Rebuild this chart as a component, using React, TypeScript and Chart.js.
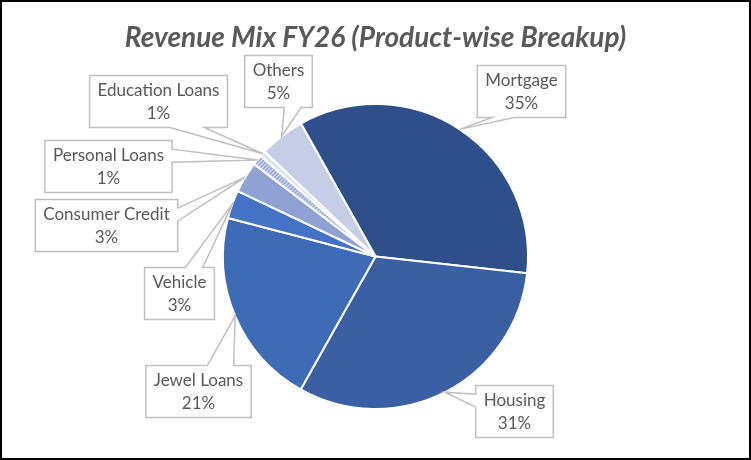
import React, { useEffect, useRef } from 'react';
import { Chart, registerables } from 'chart.js';

Chart.register(...registerables);

const chartTitle = 'Revenue Mix FY26 (Product-wise Breakup)';
const categories = ['Mortgage', 'Housing', 'Jewel Loans', 'Vehicle', 'Consumer Credit', 'Personal Loans', 'Education Loans', 'Others'];
const shares = [34.9, 31.4, 20.9, 3.0, 3.3, 1.1, 0.6, 4.8];
const percentLabels = ['35%', '31%', '21%', '3%', '3%', '1%', '1%', '5%'];
const sliceColors = ['#2F4F8B', '#3A5FA3', '#3E6BB6', '#4472C4', '#8EA3D4', 'hatch', '#DCE2F2', '#C5CDE7'];
// callout box centres, offset from the pie centre (px)
const calloutOffsets = [
    [146, -165], [139, 155], [-177, 135], [-196, 37],
    [-269, -31], [-267, -90], [-217, -155], [-97, -175],
];

const LABEL_FONT = '17px Lato';
const TEXT_COLOR = '#595959';

const calloutPlugin = {
    id: 'callouts',
    afterDatasetsDraw(chart: any) {
        const ctx = chart.ctx as CanvasRenderingContext2D;
        const meta = chart.getDatasetMeta(0);
        ctx.save();
        ctx.font = LABEL_FONT;
        meta.data.forEach((arc: any, i: number) => {
            const { x, y, startAngle, endAngle, outerRadius } = arc.getProps(['x', 'y', 'startAngle', 'endAngle', 'outerRadius'], true);
            const mid = (startAngle + endAngle) / 2;
            const tipX = x + Math.cos(mid) * outerRadius;
            const tipY = y + Math.sin(mid) * outerRadius;
            const lines = [categories[i], percentLabels[i]];
            const w = Math.max(...lines.map((l) => ctx.measureText(l).width)) + 16;
            const h = 52;
            const cx = x + calloutOffsets[i][0];
            const cy = y + calloutOffsets[i][1];
            const left = cx - w / 2, top = cy - h / 2, right = cx + w / 2, bottom = cy + h / 2;
            const dx = tipX - cx, dy = tipY - cy;
            const vertical = Math.abs(dy) * w > Math.abs(dx) * h;

            ctx.beginPath();
            ctx.moveTo(left, top);
            // top edge
            if (vertical && dy < 0) {
                const f = dx < 0 ? [2, 5] : [7, 10];
                ctx.lineTo(left + (w * f[0]) / 12, top);
                ctx.lineTo(tipX, tipY);
                ctx.lineTo(left + (w * f[1]) / 12, top);
            }
            ctx.lineTo(right, top);
            // right edge
            if (!vertical && dx > 0) {
                const f = dy < 0 ? [2, 5] : [7, 10];
                ctx.lineTo(right, top + (h * f[0]) / 12);
                ctx.lineTo(tipX, tipY);
                ctx.lineTo(right, top + (h * f[1]) / 12);
            }
            ctx.lineTo(right, bottom);
            // bottom edge
            if (vertical && dy >= 0) {
                const f = dx < 0 ? [5, 2] : [10, 7];
                ctx.lineTo(left + (w * f[0]) / 12, bottom);
                ctx.lineTo(tipX, tipY);
                ctx.lineTo(left + (w * f[1]) / 12, bottom);
            }
            ctx.lineTo(left, bottom);
            // left edge
            if (!vertical && dx <= 0) {
                const f = dy < 0 ? [5, 2] : [10, 7];
                ctx.lineTo(left, top + (h * f[0]) / 12);
                ctx.lineTo(tipX, tipY);
                ctx.lineTo(left, top + (h * f[1]) / 12);
            }
            ctx.closePath();
            ctx.fillStyle = '#FFFFFF';
            ctx.fill();
            ctx.strokeStyle = '#BFBFBF';
            ctx.lineWidth = 1.5;
            ctx.stroke();

            ctx.fillStyle = TEXT_COLOR;
            ctx.textAlign = 'center';
            ctx.textBaseline = 'middle';
            ctx.fillText(lines[0], cx, cy - 11);
            ctx.fillText(lines[1], cx, cy + 12);
        });
        ctx.restore();
    },
    afterDraw(chart: any) {
        const ctx = chart.ctx as CanvasRenderingContext2D;
        ctx.save();
        ctx.strokeStyle = '#000000';
        ctx.lineWidth = 2;
        ctx.strokeRect(1, 1, chart.width - 2, chart.height - 2);
        ctx.restore();
    },
};

const makeHatch = (ctx: CanvasRenderingContext2D) => {
    const pc = document.createElement('canvas');
    pc.width = 4;
    pc.height = 4;
    const p = pc.getContext('2d')!;
    p.fillStyle = '#D3DBF0';
    p.fillRect(0, 0, 4, 4);
    p.strokeStyle = '#8DA2D8';
    p.lineWidth = 1.4;
    p.beginPath();
    p.moveTo(-1, 1); p.lineTo(1, -1);
    p.moveTo(0, 4); p.lineTo(4, 0);
    p.moveTo(3, 5); p.lineTo(5, 3);
    p.stroke();
    return ctx.createPattern(pc, 'repeat');
};

const App: React.FC = () => {
    const canvasRef = useRef<HTMLCanvasElement | null>(null);
    const chartRef = useRef<Chart | null>(null);

    useEffect(() => {
        if (!canvasRef.current) return;
        const ctx = canvasRef.current.getContext('2d')!;
        const hatch = makeHatch(ctx);

        if (chartRef.current) chartRef.current.destroy();

        chartRef.current = new Chart(ctx, {
            type: 'pie',
            data: {
                labels: categories,
                datasets: [{
                    data: shares,
                    backgroundColor: sliceColors.map((c) => (c === 'hatch' ? hatch : c)) as any,
                    borderColor: '#FFFFFF',
                    borderWidth: 2,
                }],
            },
            options: {
                animation: false,
                responsive: true,
                maintainAspectRatio: false,
                rotation: -29.3,
                layout: { padding: { top: 0, bottom: 50, left: 0, right: 0 } },
                plugins: {
                    legend: { display: false },
                    tooltip: { enabled: false },
                    title: {
                        display: true,
                        text: chartTitle,
                        color: TEXT_COLOR,
                        font: { family: 'Lato', size: 28, weight: 'bold', style: 'italic' },
                        padding: { top: 21, bottom: 48.4 },
                    },
                },
            },
            plugins: [calloutPlugin],
        });

        return () => {
            if (chartRef.current) {
                chartRef.current.destroy();
                chartRef.current = null;
            }
        };
    }, []);

    return (
        <div style={{ position: 'absolute', left: 0, top: 0, width: 751, height: 460, background: '#fff' }}>
            <canvas ref={canvasRef}></canvas>
        </div>
    );
};

export default App;
